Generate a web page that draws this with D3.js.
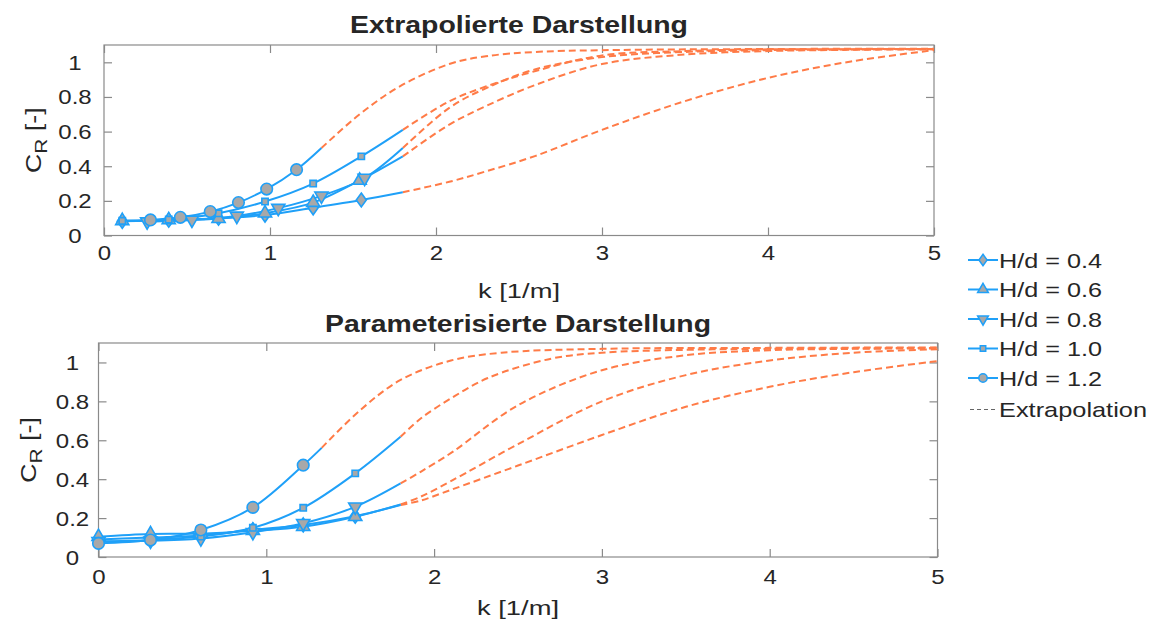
<!DOCTYPE html>
<html><head><meta charset="utf-8">
<script src="https://cdn.jsdelivr.net/npm/d3@7"></script>
<style>
body{margin:0;background:#fff}
svg{display:block}
text{font-family:"Liberation Sans",Arial,Helvetica,sans-serif;fill:#262626}
</style>
</head><body>
<svg id="chart" width="1157" height="628"></svg>
<script>
// ---------- data ----------
const seriesNames = ["H/d = 0.4","H/d = 0.6","H/d = 0.8","H/d = 1.0","H/d = 1.2"];
const markerTypes = ["diamond","triangleUp","triangleDown","square","circle"];
const xTicks = [0,1,2,3,4,5];
const yTicks = [0,0.2,0.4,0.6,0.8,1];
const titles = ["Extrapolierte Darstellung","Parameterisierte Darstellung"];
const xLabel = "k [1/m]";
const legendExtra = "Extrapolation";

// Top panel: measured points
const topK = [
  [0.11,0.39,0.69,0.97,1.26,1.55],
  [0.11,0.39,0.69,0.97,1.26,1.54],
  [0.26,0.53,0.80,1.05,1.31,1.57],
  [0.11,0.39,0.69,0.97,1.26,1.55],
  [0.28,0.46,0.64,0.81,0.98,1.16]
];
const topC = [
  [0.082,0.088,0.100,0.118,0.160,0.205],
  [0.085,0.090,0.097,0.129,0.190,0.318],
  [0.080,0.090,0.113,0.158,0.229,0.332],
  [0.085,0.092,0.128,0.196,0.300,0.457],
  [0.090,0.105,0.138,0.190,0.268,0.380]
];
const topFitEndK = [1.8,1.8,1.8,1.8,1.31];
const topFitEndC = [0.25,0.457,0.505,0.61,0.505];
// Top panel: extrapolation curves
const topExtK = [
  [1.8,2.08,2.3,2.6,3.0,3.5,4.0,4.5,5.0],
  [1.8,2.08,2.3,2.6,3.0,3.5,4.0,4.5,5.0],
  [1.8,2.08,2.3,2.6,3.0,3.5,4.0,4.5,5.0],
  [1.8,2.08,2.3,2.6,3.0,3.5,4.0,4.5,5.0],
  [1.31,1.54,1.78,2.08,2.3,2.6,3.0,4.0,5.0]
];
const topExtC = [
  [0.25,0.31,0.37,0.46,0.61,0.776,0.91,1.005,1.07],
  [0.457,0.64,0.747,0.87,0.99,1.045,1.065,1.072,1.075],
  [0.505,0.737,0.85,0.96,1.03,1.06,1.07,1.074,1.076],
  [0.61,0.775,0.86,0.95,1.04,1.065,1.075,1.076,1.077],
  [0.505,0.70,0.86,0.99,1.035,1.06,1.07,1.077,1.078]
];

// Bottom panel
const botK = [
  [0,0.31,0.61,0.92,1.22,1.53],
  [0,0.31,0.61,0.92,1.22,1.53],
  [0,0.31,0.61,0.92,1.22,1.53],
  [0,0.31,0.61,0.92,1.22,1.53],
  [0,0.31,0.61,0.92,1.22]
];
const botC = [
  [0.090,0.100,0.110,0.140,0.165,0.210],
  [0.104,0.118,0.120,0.135,0.156,0.207],
  [0.080,0.083,0.095,0.127,0.173,0.258],
  [0.080,0.088,0.105,0.150,0.253,0.430],
  [0.070,0.087,0.139,0.255,0.472]
];
const botFitEndK = [1.8,1.8,1.8,1.8,1.33];
const botFitEndC = [0.267,0.27,0.378,0.618,0.561];
const botExtK = [
  [1.8,1.92,2.1,2.5,3.0,3.5,4.0,4.5,5.0],
  [1.8,1.92,2.1,2.5,3.0,3.5,4.0,4.5,5.0],
  [1.8,1.92,2.11,2.5,3.0,3.5,4.0,4.5,5.0],
  [1.8,1.92,2.1,2.32,2.7,3.0,3.5,4.0,5.0],
  [1.33,1.56,1.8,2.1,2.4,3.0,4.0,5.0]
];
const botExtC = [
  [0.267,0.29,0.345,0.47,0.627,0.772,0.875,0.95,1.007],
  [0.27,0.31,0.39,0.58,0.80,0.935,1.01,1.05,1.068],
  [0.378,0.438,0.54,0.78,0.96,1.037,1.063,1.07,1.072],
  [0.618,0.712,0.815,0.92,1.02,1.05,1.065,1.07,1.075],
  [0.561,0.755,0.91,1.01,1.05,1.07,1.075,1.077]
];

// ---------- drawing ----------
const BLUE = "#1fa0f8", ORANGE = "#ff7b47", GRAY = "#a8a8a8", AX = "#8a8a8a";
const svg = d3.select("#chart");

function stretch(sel, f){
  sel.each(function(){
    const l = this.getComputedTextLength();
    d3.select(this).attr("textLength", l*f).attr("lengthAdjust","spacingAndGlyphs");
  });
}

function symbolPath(type, size){
  if (type === "diamond") {
    const h = Math.sqrt(size) * 0.9, w = h * 0.72;
    return `M0,${-h}L${w},0L0,${h}L${-w},0Z`;
  }
  const map = {triangleUp:d3.symbolTriangle, triangleDown:d3.symbolTriangle,
               square:d3.symbolSquare, circle:d3.symbolCircle};
  return d3.symbol().type(map[type]).size(size)();
}
function markerTf(t){ return (t==="triangleDown"?" rotate(180)":""); }
const markerSize = {diamond:60, triangleUp:75, triangleDown:75, square:40, circle:105};

function panel(cfg){
  const x = d3.scaleLinear().domain([0,5]).range([cfg.x0,cfg.x1]);
  const y = d3.scaleLinear().domain([0,1.1]).range([cfg.yb,cfg.yt]);
  const g = svg.append("g");

  g.append("rect").attr("x",cfg.x0).attr("y",cfg.yt).attr("width",cfg.x1-cfg.x0).attr("height",cfg.yb-cfg.yt)
    .attr("fill","#fff").attr("stroke",AX).attr("stroke-width",1.2);

  const axB = g.append("g").attr("transform",`translate(0,${cfg.yb})`)
     .call(d3.axisBottom(x).tickValues(xTicks).tickSize(-8).tickFormat(d3.format("d")));
  const axT = g.append("g").attr("transform",`translate(0,${cfg.yt})`)
     .call(d3.axisTop(x).tickValues(xTicks).tickSize(-8).tickFormat(""));
  const axL = g.append("g").attr("transform",`translate(${cfg.x0},0)`)
     .call(d3.axisLeft(y).tickValues(yTicks).tickSize(-8).tickFormat(d=>d===0||d===1?String(d):d3.format(".1f")(d)));
  const axR = g.append("g").attr("transform",`translate(${cfg.x1},0)`)
     .call(d3.axisRight(y).tickValues(yTicks).tickSize(-8).tickFormat(""));
  [axB,axT,axL,axR].forEach(a=>{ a.select(".domain").remove(); a.selectAll("line").attr("stroke",AX).attr("stroke-width",1.2);});
  axB.selectAll("text").attr("font-size",20).attr("fill","#262626").attr("font-family","Liberation Sans, Arial, sans-serif")
     .attr("dy",null).attr("y", cfg.xLabY - cfg.yb).attr("dominant-baseline","central");
  axL.selectAll("text").attr("font-size",20).attr("fill","#262626").attr("font-family","Liberation Sans, Arial, sans-serif")
     .attr("text-anchor","middle").attr("x",-cfg.yLabOff).attr("dy",null).attr("dominant-baseline","central");
  stretch(axB.selectAll("text"),1.2);
  stretch(axL.selectAll("text"),1.2);

  const line = d3.line().x(d=>x(d[0])).y(d=>y(d[1])).curve(d3.curveCatmullRom.alpha(0.5));

  // extrapolation dashed
  cfg.extK.forEach((ks,i)=>{
    const pts = ks.map((k,j)=>[k,cfg.extC[i][j]]);
    g.append("path").attr("d",line(pts)).attr("fill","none").attr("stroke",ORANGE)
      .attr("stroke-width",2).attr("stroke-dasharray","7,4");
  });
  // fitted solid lines
  cfg.k.forEach((ks,i)=>{
    const pts = ks.map((k,j)=>[k,cfg.c[i][j]]).concat([[cfg.endK[i],cfg.endC[i]]]);
    g.append("path").attr("d",line(pts)).attr("fill","none").attr("stroke",BLUE).attr("stroke-width",2);
  });
  // markers
  cfg.k.forEach((ks,i)=>{
    const t = markerTypes[i];
    ks.forEach((k,j)=>{
      g.append("path").attr("d",symbolPath(t,markerSize[t]))
        .attr("transform",`translate(${x(k)},${y(cfg.c[i][j])})${markerTf(t)}`)
        .attr("fill",GRAY).attr("stroke",BLUE).attr("stroke-width",1.6);
    });
  });

  // title
  svg.append("text").attr("x",(cfg.x0+cfg.x1)/2).attr("y",cfg.titleY).attr("text-anchor","middle")
    .attr("font-size",23).attr("font-weight","bold").attr("fill","#000")
    .attr("textLength",cfg.titleW).attr("lengthAdjust","spacingAndGlyphs").text(cfg.title);
  // x label
  svg.append("text").attr("x",(cfg.x0+cfg.x1)/2).attr("y",cfg.xTitleY).attr("text-anchor","middle")
    .attr("font-size",21).attr("textLength",82).attr("lengthAdjust","spacingAndGlyphs").text(xLabel);
  // y label
  const yl = svg.append("text").attr("transform",`translate(${cfg.yTitleX},${(cfg.yt+cfg.yb)/2}) rotate(-90)`)
    .attr("text-anchor","middle").attr("font-size",22);
  yl.append("tspan").text("C");
  yl.append("tspan").attr("font-size",17).attr("dy",6).text("R");
  yl.append("tspan").attr("dy",-6).text(" [-]");
  yl.attr("textLength",66).attr("lengthAdjust","spacingAndGlyphs");
}

panel({x0:104,x1:934,yt:45,yb:235.5,xLabY:253,yLabOff:29,title:titles[0],titleW:338,titleY:33,xTitleY:298,yTitleX:41,
  k:topK,c:topC,endK:topFitEndK,endC:topFitEndC,extK:topExtK,extC:topExtC});
panel({x0:98.5,x1:937.5,yt:343,yb:557,xLabY:577,yLabOff:26,title:titles[1],titleW:386,titleY:332,xTitleY:615,yTitleX:36,
  k:botK,c:botC,endK:botFitEndK,endC:botFitEndC,extK:botExtK,extC:botExtC});

// legend
const legY0 = 260, legDy = 29.5;
const lg = svg.append("g");
seriesNames.forEach((n,i)=>{
  const yy = legY0 + i*legDy, t = markerTypes[i];
  lg.append("line").attr("x1",968).attr("x2",998).attr("y1",yy).attr("y2",yy).attr("stroke",BLUE).attr("stroke-width",2);
  const sz = {diamond:40,triangleUp:50,triangleDown:50,square:30,circle:55}[t];
  lg.append("path").attr("d",symbolPath(t,sz))
    .attr("transform",`translate(983,${yy})${markerTf(t)}`)
    .attr("fill",GRAY).attr("stroke",BLUE).attr("stroke-width",1.5);
  lg.append("text").attr("x",999).attr("y",yy).attr("dominant-baseline","central").attr("font-size",21)
    .attr("textLength",103).attr("lengthAdjust","spacingAndGlyphs").text(n);
});
{
  const yy = legY0 + 5*legDy + 2;
  lg.append("line").attr("x1",970).attr("x2",997).attr("y1",yy).attr("y2",yy).attr("stroke","#666").attr("stroke-width",1).attr("stroke-dasharray","4,3");
  lg.append("text").attr("x",999).attr("y",yy).attr("dominant-baseline","central").attr("font-size",21)
    .attr("textLength",148).attr("lengthAdjust","spacingAndGlyphs").text(legendExtra);
}
</script>
</body></html>
